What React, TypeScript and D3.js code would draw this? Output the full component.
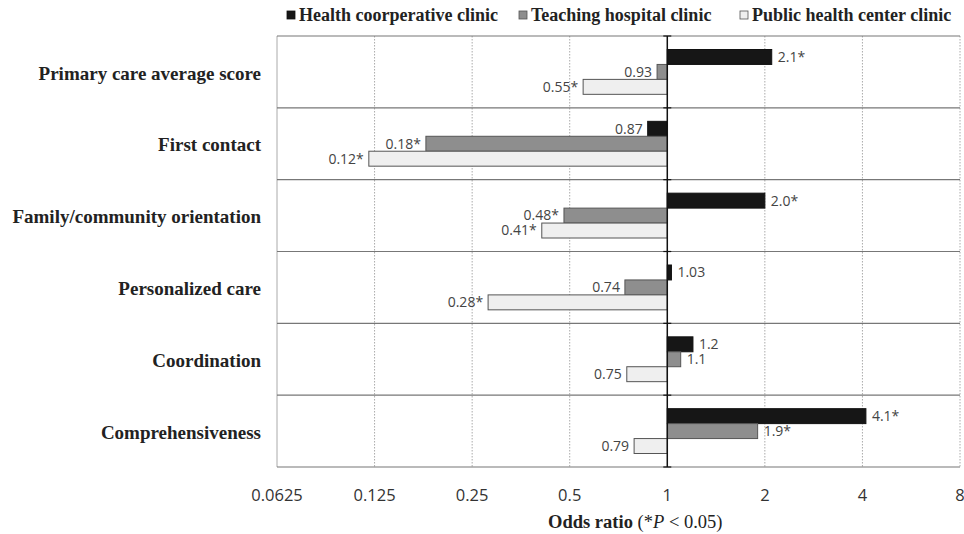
import * as d3 from "d3"

const categories = [
  "Primary care average score",
  "First contact",
  "Family/community orientation",
  "Personalized care",
  "Coordination",
  "Comprehensiveness",
]

const seriesNames = ["Health coorperative clinic", "Teaching hospital clinic", "Public health center clinic"]

const cooperative = [2.1, 0.87, 2.0, 1.03, 1.2, 4.1]
const teaching = [0.93, 0.18, 0.48, 0.74, 1.1, 1.9]
const publicCenter = [0.55, 0.12, 0.41, 0.28, 0.75, 0.79]

const cooperativeLabels = ["2.1*", "0.87", "2.0*", "1.03", "1.2", "4.1*"]
const teachingLabels = ["0.93", "0.18*", "0.48*", "0.74", "1.1", "1.9*"]
const publicLabels = ["0.55*", "0.12*", "0.41*", "0.28*", "0.75", "0.79"]

const ticks = [0.0625, 0.125, 0.25, 0.5, 1, 2, 4, 8]

const series = [
  { name: seriesNames[0], values: cooperative, labels: cooperativeLabels, fill: "#161616", stroke: "#111" },
  { name: seriesNames[1], values: teaching, labels: teachingLabels, fill: "#8e8e8e", stroke: "#555" },
  { name: seriesNames[2], values: publicCenter, labels: publicLabels, fill: "#efefef", stroke: "#555" },
]

export default function App() {
  const width = 964
  const height = 534
  const margin = { top: 36, right: 4, bottom: 67, left: 277 }
  const innerWidth = width - margin.left - margin.right
  const innerHeight = height - margin.top - margin.bottom

  const x = d3.scaleLog().base(2).domain([0.0625, 8]).range([0, innerWidth])
  const y = d3.scaleBand().domain(categories).range([0, innerHeight]).paddingInner(0).paddingOuter(0)
  const rowPad = 13.5
  const sub = d3
    .scaleBand()
    .domain(series.map((s) => s.name))
    .range([rowPad, y.bandwidth() - rowPad])

  const serif = "'Liberation Serif', 'Times New Roman', serif"
  const sans = "'Open Sans', 'DejaVu Sans', sans-serif"

  // legend square positions
  const legendX = [287, 519, 740]

  return (
    <svg width={width} height={height} style={{ position: "absolute", left: 0, top: 0, background: "#fff" }}>
      {/* legend */}
      <g>
        {series.map((s, i) => (
          <g key={s.name} transform={`translate(${legendX[i]}, 21)`}>
            <rect x={0} y={-10} width={8} height={8} fill={s.fill} stroke={s.stroke} strokeWidth={0.8} />
            <text x={12} y={0} fontFamily={serif} fontWeight="bold" fontSize={18} fill="#222">
              {s.name}
            </text>
          </g>
        ))}
      </g>

      <g transform={`translate(${margin.left}, ${margin.top})`}>
        {/* vertical gridlines */}
        {ticks.map((t) =>
          t === 1 ? null : (
            <line
              key={t}
              x1={x(t)}
              x2={x(t)}
              y1={0}
              y2={innerHeight}
              stroke="#aaa"
              strokeWidth={1}
              strokeDasharray={t === 0.0625 ? undefined : "1.5,1.5"}
            />
          ),
        )}
        {/* row separators */}
        {d3.range(categories.length + 1).map((i) => (
          <line
            key={i}
            x1={0}
            x2={innerWidth}
            y1={i * y.step()}
            y2={i * y.step()}
            stroke="#777"
            strokeWidth={1.2}
          />
        ))}

        {/* bars */}
        {categories.map((c, ci) => (
          <g key={c} transform={`translate(0, ${y(c)})`}>
            {series.map((s) => {
              const v = s.values[ci]
              const x0 = Math.min(x(1), x(v))
              const w = Math.abs(x(v) - x(1))
              const by = sub(s.name) as number
              const bh = sub.bandwidth()
              const right = v >= 1
              return (
                <g key={s.name}>
                  <rect x={x0} y={by} width={w} height={bh} fill={s.fill} stroke={s.stroke} strokeWidth={1} />
                  <text
                    x={right ? x(v) + 6 : x(v) - 5}
                    y={by + bh / 2}
                    dy="0.35em"
                    textAnchor={right ? "start" : "end"}
                    fontFamily={sans}
                    fontSize={14}
                    fill="#444"
                  >
                    {s.labels[ci]}
                  </text>
                </g>
              )
            })}
          </g>
        ))}

        {/* category axis at OR = 1 */}
        <line x1={x(1)} x2={x(1)} y1={0} y2={innerHeight} stroke="#111" strokeWidth={1.5} />
        {d3.range(categories.length + 1).map((i) => (
          <line
            key={i}
            x1={x(1) - 4}
            x2={x(1) + 4}
            y1={i * y.step()}
            y2={i * y.step()}
            stroke="#111"
            strokeWidth={1.2}
          />
        ))}

        {/* category labels */}
        {categories.map((c) => (
          <text
            key={c}
            x={-16}
            y={(y(c) as number) + y.bandwidth() / 2 + 1}
            dy="0.35em"
            textAnchor="end"
            fontFamily={serif}
            fontWeight="bold"
            fontSize={19}
            fill="#222"
          >
            {c}
          </text>
        ))}

        {/* x tick labels */}
        {ticks.map((t) => (
          <text
            key={t}
            x={x(t)}
            y={innerHeight + 34}
            textAnchor="middle"
            fontFamily={sans}
            fontSize={16.5}
            fill="#333"
          >
            {t}
          </text>
        ))}

        {/* x axis title */}
        <text
          x={x(1) - 32}
          y={innerHeight + 61}
          textAnchor="middle"
          fontFamily={serif}
          fontSize={18.5}
          fill="#222"
        >
          <tspan fontWeight="bold">Odds ratio</tspan>
          <tspan> (*</tspan>
          <tspan fontStyle="italic">P</tspan>
          <tspan> &lt; 0.05)</tspan>
        </text>
      </g>
    </svg>
  )
}
